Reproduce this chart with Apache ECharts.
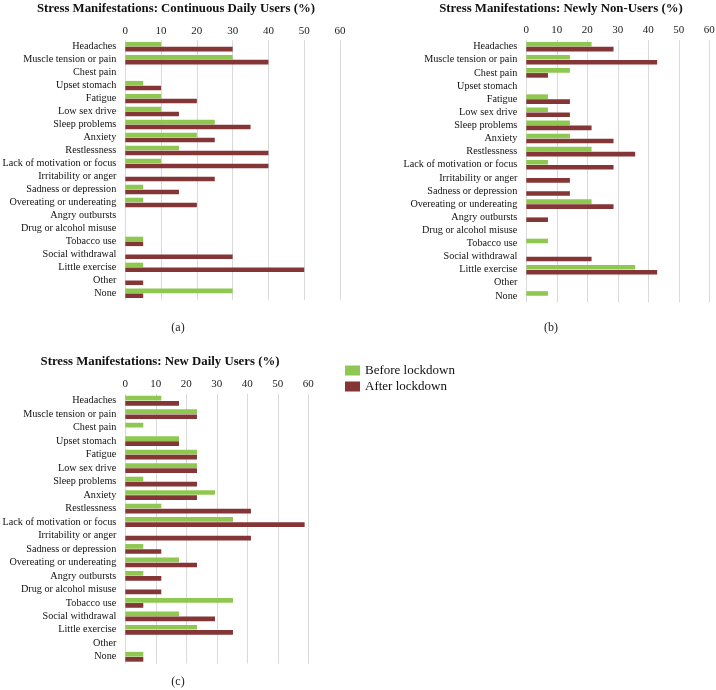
<!DOCTYPE html>
<html><head><meta charset="utf-8">
<script src="https://cdn.jsdelivr.net/npm/echarts@6/dist/echarts.min.js"></script>
<style>html,body{margin:0;padding:0;background:#fff}#c{width:716px;height:690px}</style>
</head><body><div id="c"></div>
<script>
const categories = ["Headaches","Muscle tension or pain","Chest pain","Upset stomach","Fatigue","Low sex drive","Sleep problems","Anxiety","Restlessness","Lack of motivation or focus","Irritability or anger","Sadness or depression","Overeating or undereating","Angry outbursts","Drug or alcohol misuse","Tobacco use","Social withdrawal","Little exercise","Other","None"];
const seriesNames = ["Before lockdown","After lockdown"];
const titles = ["Stress Manifestations: Continuous Daily Users (%)","Stress Manifestations: Newly Non-Users (%)","Stress Manifestations: New Daily Users (%)"];
const captions = ["(a)","(b)","(c)"];
const tickMax = 60, tickStep = 10;

const contBefore = [10,30,0,5,10,10,25,20,15,10,0,5,5,0,0,5,0,5,0,30];
const contAfter  = [30,40,0,10,20,15,35,25,40,40,25,15,20,0,0,5,30,50,5,5];

const nonBefore = [21.4,14.3,14.3,0,7.1,7.1,14.3,14.3,21.4,7.1,0,0,21.4,0,0,7.1,0,35.7,0,7.1];
const nonAfter  = [28.6,42.9,7.1,0,14.3,14.3,21.4,28.6,35.7,28.6,14.3,14.3,28.6,7.1,0,0,21.4,42.9,0,0];

const newBefore = [11.8,23.5,5.9,17.6,23.5,23.5,5.9,29.4,11.8,35.3,0,5.9,17.6,5.9,0,35.3,17.6,23.5,0,5.9];
const newAfter  = [17.6,23.5,0,17.6,23.5,23.5,23.5,23.5,41.2,58.8,41.2,11.8,23.5,11.8,11.8,5.9,29.4,35.3,0,5.9];

const GREEN = '#8fc850', RED = '#843535';
const serif = '"Liberation Serif", "DejaVu Serif", serif';

const grids = [
  {left:125.3, top:40.2, width:214.7, height:259.6, outerBoundsMode:'none', containLabel:false},
  {left:526.3, top:40.1, width:183, height:262.4, outerBoundsMode:'none', containLabel:false},
  {left:125.3, top:394, width:183, height:269.5, outerBoundsMode:'none', containLabel:false}
];
const titlePos = [{x:176,y:2},{x:561,y:2},{x:160,y:355}];
const capPos = [{x:178,y:322},{x:551,y:322},{x:178,y:676}];
const data = [[contBefore,contAfter],[nonBefore,nonAfter],[newBefore,newAfter]];

const option = {
  animation:false,
  backgroundColor:'#fff',
  title: titles.map((t,i)=>({text:t,left:titlePos[i].x,top:titlePos[i].y,textAlign:'center',padding:0,
    textStyle:{fontFamily:serif,fontWeight:'bold',fontSize:12.8,color:'#111'}}))
    .concat(captions.map((t,i)=>({text:t,left:capPos[i].x,top:capPos[i].y,textAlign:'center',padding:0,
    textStyle:{fontFamily:serif,fontWeight:'normal',fontSize:12,color:'#222'}}))),
  legend:{orient:'vertical',left:345,top:364,itemWidth:15,itemHeight:10,itemGap:3,padding:0,
    data:seriesNames,textStyle:{fontFamily:serif,fontSize:13,color:'#111'},icon:'rect'},
  grid: grids,
  xAxis: grids.map((g,i)=>({type:'value',gridIndex:i,position:'top',min:0,max:tickMax,interval:tickStep,
    axisLine:{show:false},axisTick:{show:false},
    axisLabel:{fontFamily:serif,fontSize:11,color:'#222',margin:4},
    splitLine:{show:true,lineStyle:{color:'#d9d9d9',width:1}}})),
  yAxis: grids.map((g,i)=>({type:'category',gridIndex:i,inverse:true,data:categories,
    axisLine:{show:false},axisTick:{show:false},
    axisLabel:{fontFamily:serif,fontSize:10.2,color:'#111',margin:9,interval:0}})),
  series: []
};
data.forEach((pair,i)=>{
  pair.forEach((vals,j)=>{
    option.series.push({type:'bar',name:seriesNames[j],xAxisIndex:i,yAxisIndex:i,data:vals,
      barWidth:'35%',barGap:'8%',itemStyle:{color:j===0?GREEN:RED}});
  });
});
const chart = echarts.init(document.getElementById('c'),null,{renderer:'canvas'});
chart.setOption(option);
</script></body></html>
